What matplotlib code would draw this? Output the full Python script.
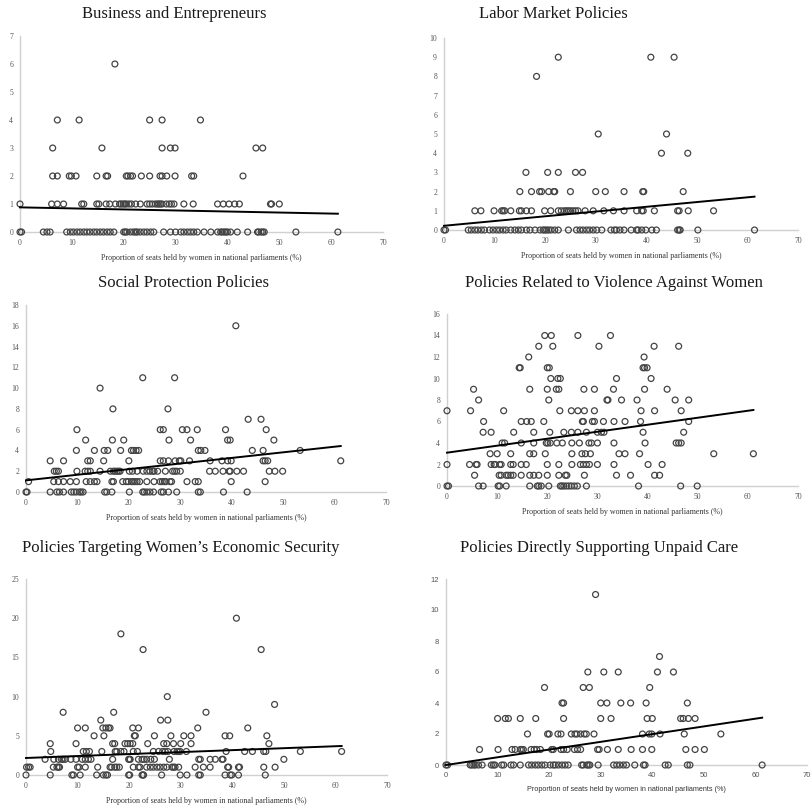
import numpy as np
import matplotlib
matplotlib.use("Agg")
import matplotlib.pyplot as plt

# x = proportion of seats held by women (%), grouped by policy count (y)
business = {
    6: [18.3],
    4: [7.2, 11.4, 25.0, 27.4, 34.8],
    3: [6.3, 15.8, 27.4, 29.0, 29.9, 45.5, 46.8],
    2: [6.3, 7.2, 9.5, 9.9, 10.8, 14.8, 16.6, 16.9, 20.5, 20.8, 21.3, 21.7, 23.4,
        25.0, 27.0, 27.4, 28.3, 29.9, 33.1, 33.5, 43.0],
    1: [0.0, 6.1, 7.2, 8.4, 11.9, 12.3, 14.8, 15.2, 16.6, 17.3, 18.4, 19.2, 19.5,
        19.9, 20.2, 20.5, 21.0, 21.5, 22.3, 23.2, 24.5, 25.0, 25.5, 26.1, 26.5,
        26.8, 27.1, 27.4, 28.2, 28.8, 29.2, 29.7, 31.6, 33.4, 38.1, 39.2, 40.3,
        41.4, 42.3, 48.3, 48.5, 50.0],
    0: [0.0, 0.3, 4.5, 5.2, 5.8, 9.0, 9.7, 10.3, 11.0, 11.6, 12.3, 12.9, 13.5,
        14.2, 14.8, 15.5, 16.1, 16.8, 17.4, 18.1, 20.0, 20.3, 20.6, 21.3, 21.9,
        22.3, 22.6, 23.2, 23.9, 24.5, 25.2, 25.8, 27.7, 29.0, 30.0, 31.0, 31.6,
        32.3, 32.9, 33.5, 34.2, 35.5, 36.8, 38.1, 38.7, 39.0, 39.4, 39.7, 40.0,
        40.6, 41.9, 43.9, 45.8, 46.0, 46.5, 46.8, 47.1, 53.2, 61.3],
}
labor = {
    9: [22.6, 40.9, 45.5],
    8: [18.3],
    5: [30.5, 44.0],
    4: [43.0, 48.2],
    3: [16.2, 20.5, 22.6, 26.0, 27.4],
    2: [15.0, 17.3, 18.9, 19.3, 20.7, 21.7, 21.9, 25.0, 30.0, 31.9, 35.6, 39.3,
        39.5, 47.3],
    1: [6.1, 7.3, 9.9, 11.4, 11.7, 12.0, 13.2, 14.9, 15.3, 16.3, 17.3, 19.9, 21.1,
        22.6, 23.2, 23.8, 24.2, 24.6, 25.0, 25.5, 26.0, 26.5, 27.9, 29.5, 31.6,
        33.5, 35.6, 38.1, 39.1, 39.4, 41.6, 46.2, 46.5, 48.3, 53.3],
    0: [0.0, 0.3, 4.8, 5.4, 6.1, 6.7, 7.4, 8.0, 9.0, 9.7, 10.4, 11.0, 11.7, 12.3,
        13.2, 14.0, 14.7, 15.3, 16.3, 17.0, 18.0, 19.0, 19.6, 19.9, 20.3, 20.7,
        21.2, 21.9, 22.6, 24.6, 26.2, 26.9, 27.5, 28.2, 28.8, 29.5, 30.2, 31.2,
        33.0, 33.7, 34.1, 34.8, 35.6, 37.0, 38.1, 38.4, 39.1, 39.9, 41.1, 42.0,
        46.2, 46.5, 46.7, 50.2, 61.4],
}
social = {
    16: [40.8],
    11: [22.7, 28.9],
    10: [14.4],
    8: [16.9, 27.6],
    7: [43.2, 45.7],
    6: [9.9, 26.1, 26.7, 30.4, 31.3, 33.3, 38.8, 46.7],
    5: [11.6, 16.8, 19.0, 27.8, 32.0, 39.2, 39.7, 48.2],
    4: [9.8, 13.3, 15.2, 15.9, 18.4, 20.5, 20.9, 21.4, 21.9, 33.5, 34.0, 34.8,
        44.0, 46.1, 53.3],
    3: [4.7, 7.3, 12.0, 12.5, 15.1, 20.0, 26.1, 26.7, 27.7, 29.0, 29.8, 30.1,
        31.8, 35.8, 38.1, 39.2, 39.9, 46.1, 46.5, 47.0, 61.2],
    2: [5.5, 5.9, 6.3, 9.9, 11.5, 12.0, 12.5, 14.4, 16.4, 17.0, 17.3, 17.7, 18.0,
        18.3, 20.1, 20.7, 21.6, 22.8, 23.5, 24.1, 24.6, 24.9, 25.6, 27.1, 28.5,
        28.9, 29.3, 30.0, 35.7, 36.8, 38.3, 39.5, 39.7, 41.0, 42.3, 47.3, 48.4,
        49.9],
    1: [0.5, 5.4, 6.3, 7.3, 8.6, 9.8, 11.7, 12.5, 13.3, 13.8, 16.7, 17.0, 18.8,
        19.5, 19.9, 20.5, 20.8, 21.2, 21.6, 22.1, 23.5, 24.9, 26.1, 26.5, 26.9,
        27.2, 28.0, 28.3, 31.3, 32.9, 33.5, 39.9, 46.5],
    0: [0.0, 0.2, 4.7, 6.0, 6.5, 7.3, 8.8, 9.3, 9.8, 10.4, 10.7, 11.1, 15.3, 15.7,
        16.7, 20.1, 22.7, 23.0, 23.5, 24.1, 24.8, 26.3, 26.7, 27.7, 29.3, 33.5,
        33.9, 38.4, 43.0],
}
violence = {
    14: [19.5, 20.8, 26.1, 32.6],
    13: [18.3, 21.1, 30.3, 41.3, 46.2],
    12: [16.3, 39.3],
    11: [14.4, 14.6, 20.0, 20.4, 39.1, 39.4, 39.9],
    10: [20.7, 22.1, 22.6, 33.8, 40.7],
    9: [5.3, 16.5, 20.0, 21.8, 22.3, 27.3, 29.4, 33.2, 39.4, 43.9],
    8: [6.3, 20.3, 31.9, 32.1, 34.8, 37.9, 45.5, 48.2],
    7: [0.0, 4.7, 11.3, 22.5, 24.8, 26.1, 27.4, 29.4, 38.7, 41.4, 46.7],
    6: [7.3, 14.8, 15.9, 16.8, 19.3, 27.0, 27.2, 29.0, 29.4, 31.2, 33.3, 35.5,
        38.6, 48.2],
    5: [7.2, 8.8, 13.3, 17.3, 20.5, 23.3, 24.8, 26.1, 27.8, 30.0, 30.8, 31.3,
        39.1, 47.2],
    4: [11.0, 11.5, 14.8, 17.3, 19.8, 20.1, 20.6, 21.9, 23.0, 24.9, 26.4, 28.3,
        28.8, 30.0, 33.3, 39.5, 45.7, 46.2, 46.7],
    3: [8.6, 10.0, 12.7, 16.5, 17.3, 19.6, 24.9, 26.9, 27.6, 28.6, 34.3, 35.5,
        38.4, 53.2, 61.1],
    2: [0.0, 4.5, 5.8, 6.0, 8.8, 9.4, 9.6, 10.5, 10.8, 12.7, 13.2, 14.8, 15.8,
        20.0, 22.3, 24.9, 26.6, 27.2, 27.8, 28.4, 30.0, 33.3, 40.1, 42.9],
    1: [5.5, 10.4, 10.8, 11.8, 12.2, 12.7, 13.2, 14.8, 16.5, 17.3, 18.3, 20.0,
        22.3, 23.6, 23.9, 27.4, 33.8, 36.6, 41.4, 42.4],
    0: [0.0, 0.3, 6.3, 7.2, 10.2, 10.5, 11.8, 16.5, 18.0, 18.3, 18.8, 20.3, 22.6,
        22.9, 23.3, 23.8, 24.3, 24.8, 25.4, 26.0, 27.8, 38.2, 46.6, 49.9],
}
economic = {
    20: [40.8],
    18: [18.4],
    16: [22.7, 45.6],
    10: [27.4],
    9: [48.2],
    8: [7.2, 17.0, 34.9],
    7: [14.5, 26.1, 27.5],
    6: [10.0, 11.5, 14.9, 15.5, 16.0, 16.3, 20.7, 21.8, 33.3, 43.0],
    5: [13.2, 15.1, 21.0, 21.2, 24.9, 28.1, 30.6, 32.0, 38.6, 39.5, 46.7],
    4: [4.7, 9.7, 16.8, 17.2, 19.2, 19.7, 20.2, 20.7, 23.6, 26.7, 27.3, 28.6,
        30.0, 32.0, 47.1],
    3: [4.8, 11.1, 11.7, 12.3, 14.7, 17.3, 17.6, 18.4, 19.0, 20.8, 21.6, 24.7,
        25.7, 26.5, 27.0, 27.5, 28.7, 29.3, 29.6, 29.9, 31.1, 38.8, 42.4, 43.9,
        46.1, 46.5, 53.2, 61.2],
    2: [3.7, 5.4, 6.3, 6.9, 7.2, 7.6, 8.7, 9.7, 10.9, 11.5, 12.1, 12.6, 16.8,
        19.9, 20.1, 20.2, 21.8, 22.5, 22.9, 23.4, 24.2, 24.9, 27.8, 33.5, 33.8,
        35.7, 36.7, 38.0, 38.2, 50.0],
    1: [0.1, 0.5, 0.8, 5.3, 6.0, 6.3, 6.5, 10.0, 10.3, 11.5, 13.9, 16.3, 16.6,
        17.2, 17.6, 18.1, 20.8, 21.8, 22.1, 23.4, 24.1, 24.7, 25.4, 26.0, 26.7,
        27.3, 28.3, 28.6, 28.9, 29.6, 32.8, 34.4, 35.7, 39.1, 39.3, 41.2, 41.4,
        46.1, 48.3],
    0: [0.0, 4.7, 8.9, 9.2, 10.5, 13.7, 15.0, 15.5, 15.8, 19.9, 20.1, 22.5, 22.7,
        22.8, 26.3, 29.9, 31.2, 33.5, 33.8, 38.6, 39.6, 39.9, 41.2, 46.4],
}
unpaid = {
    11: [29.0],
    7: [41.4],
    6: [27.5, 30.6, 33.4, 41.0, 44.1],
    5: [19.1, 26.6, 27.8, 39.5],
    4: [22.5, 22.8, 30.0, 31.2, 33.9, 35.8, 38.8, 46.8],
    3: [10.0, 11.5, 12.1, 14.4, 17.4, 22.8, 30.0, 32.0, 39.0, 40.0, 45.5, 46.0,
        47.0, 48.3],
    2: [15.8, 19.7, 20.0, 21.7, 22.3, 24.3, 25.0, 25.4, 26.1, 26.8, 27.2, 28.7,
        38.1, 39.4, 39.9, 41.5, 46.2, 53.3],
    1: [6.5, 10.1, 12.8, 13.4, 14.4, 14.7, 15.0, 16.5, 17.1, 17.6, 18.3, 20.5,
        20.8, 22.3, 22.8, 23.5, 24.9, 25.5, 26.1, 29.4, 29.7, 31.3, 33.4, 35.9,
        38.1, 39.9, 46.5, 48.3, 50.1],
    0: [0.0, 0.3, 4.7, 5.0, 5.4, 5.7, 6.3, 7.0, 8.8, 9.2, 9.5, 10.8, 11.2, 12.6,
        13.1, 14.4, 16.0, 16.6, 17.3, 17.9, 18.6, 19.2, 20.2, 20.8, 21.2, 21.8,
        22.5, 23.1, 23.7, 26.3, 26.6, 27.3, 27.6, 27.9, 29.5, 32.5, 33.1, 33.7,
        34.4, 35.0, 36.6, 38.3, 38.6, 42.5, 43.1, 46.8, 47.3, 61.3],
}

# linear trend lines: (intercept, slope)
trends = {
    "business": (0.88, -0.0037),
    "labor": (0.22, 0.0247),
    "social": (1.12, 0.0540),
    "violence": (3.10, 0.0650),
    "economic": (2.17, 0.0250),
    "unpaid": (0.00, 0.0498),
}

titles = ["Business and Entrepreneurs", "Labor Market Policies",
          "Social Protection Policies", "Policies Related to Violence Against Women",
          "Policies Targeting Women\u2019s Economic Security",
          "Policies Directly Supporting Unpaid Care"]
ymaxes = [7, 10, 18, 16, 25, 12]
ysteps = [1, 1, 2, 2, 5, 2]
XLABEL = "Proportion of seats held by women in national parliaments (%)"

W, H = 811, 806
fig = plt.figure(figsize=(W / 100, H / 100), dpi=100)

# pixel boxes: left, right, y-of-zero, y-of-top ; title center x, title y
boxes = [
    (20, 383, 232, 36, 174, 14),
    (444, 798, 230, 38, 553, 14),
    (26, 386, 492, 305, 183, 283),
    (447, 798, 486, 314, 614, 283),
    (26, 387, 775, 579, 181, 548),
    (446, 807, 765, 579, 599, 548),
]
panels = [business, labor, social, violence, economic, unpaid]
keys = ["business", "labor", "social", "violence", "economic", "unpaid"]

for i, (data, key) in enumerate(zip(panels, keys)):
    l, r, y0, yt, tx, ty = boxes[i]
    ax = fig.add_axes([l / W, (H - y0) / H, (r - l) / W, (y0 - yt) / H])
    xs, ys = [], []
    for cnt, xl in data.items():
        xs += xl
        ys += [cnt] * len(xl)
    ax.scatter(xs, ys, s=18, facecolors="none", edgecolors="#444444",
               linewidths=0.9, clip_on=False, zorder=3)
    b0, b1 = trends[key]
    xx = np.array([0, max(xs)])
    ax.plot(xx, b0 + b1 * xx, color="black", lw=1.4, zorder=4, clip_on=False)

    ax.set_xlim(0, 70)
    ax.set_ylim(0, ymaxes[i])
    ax.set_xticks(range(0, 71, 10))
    ax.set_yticks(range(0, ymaxes[i] + 1, ysteps[i]))
    for s in ("top", "right"):
        ax.spines[s].set_visible(False)
    for s in ("left", "bottom"):
        ax.spines[s].set_color("#d0d0d0")
        ax.spines[s].set_linewidth(1.0)
    sans = i == 5
    fam = "Liberation Sans" if sans else "Liberation Serif"
    ax.tick_params(length=0, labelsize=5.5, labelcolor="#555555", pad=5)
    for lab in ax.get_xticklabels() + ax.get_yticklabels():
        lab.set_family(fam)
    ax.set_xlabel(XLABEL, fontsize=5.2 if sans else 5.8, family=fam,
                  color="#333333", labelpad=5)
    fig.text(tx / W, 1 - ty / H, titles[i], ha="center", va="center",
             fontsize=12, family="Liberation Serif", color="#1a1a1a")

fig.savefig("out.png", dpi=100)
